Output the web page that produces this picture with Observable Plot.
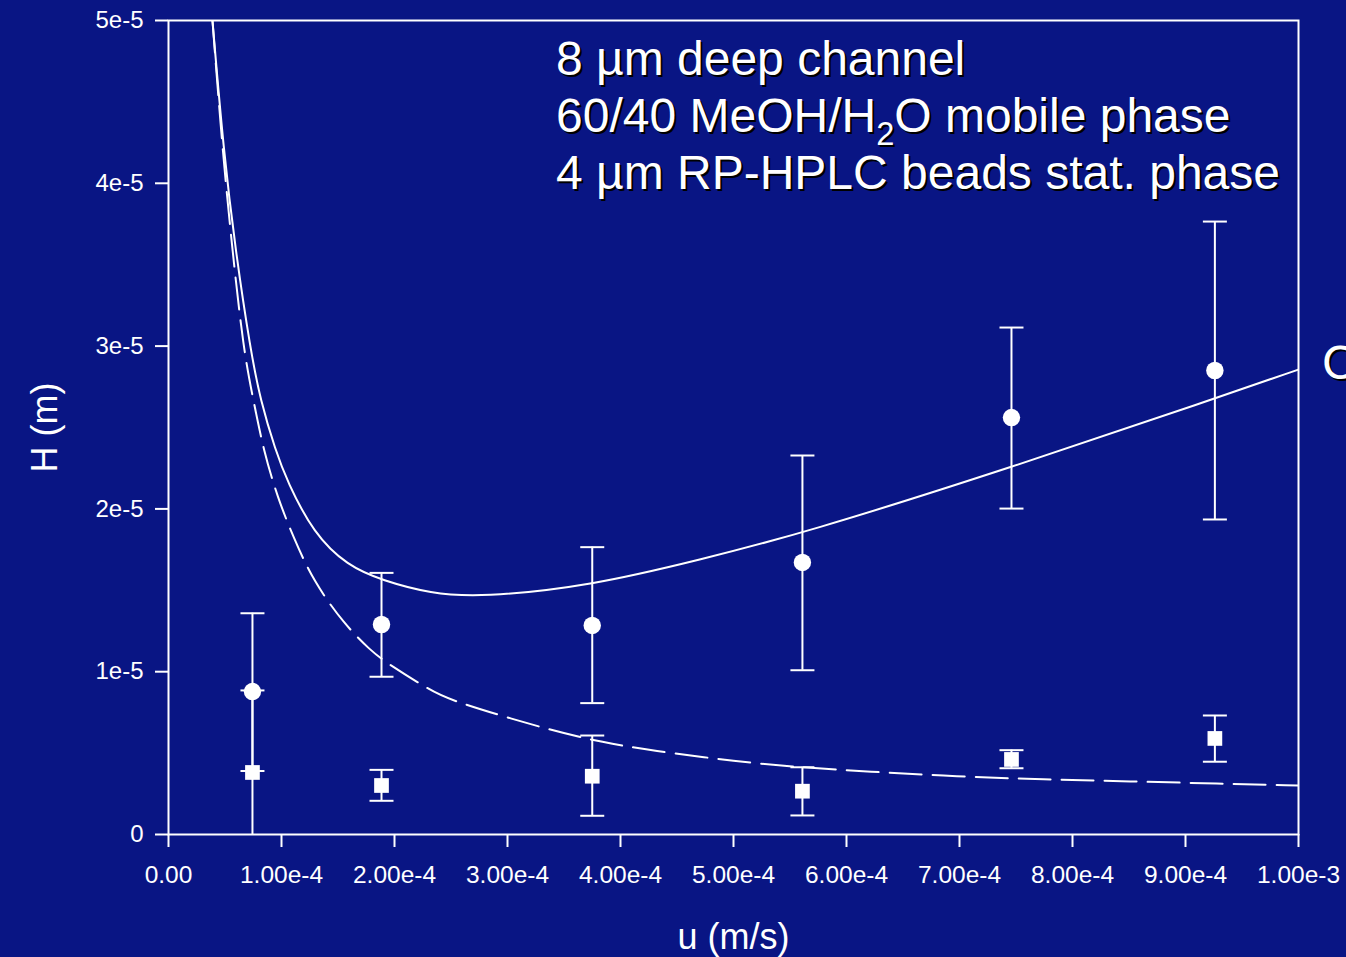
<!DOCTYPE html>
<html><head><meta charset="utf-8">
<script src="https://cdn.jsdelivr.net/npm/d3@7"></script>
<script src="https://cdn.jsdelivr.net/npm/@observablehq/plot@0.6"></script>
<style>
html,body{margin:0;padding:0;background:#091584;overflow:hidden;width:1346px;height:957px;}
#wrap{position:relative;width:1346px;height:957px;}
#wrap svg{position:absolute;left:0;top:0;}
.note{position:absolute;color:#fff;font-family:"Liberation Sans",Arial,sans-serif;font-size:48px;text-shadow:2px 2px 0 #000;white-space:nowrap;line-height:57px;}
.note sub{font-size:0.68em;vertical-align:-13px;line-height:0;}
</style></head><body><div id="wrap"></div>
<script>
// Measured points (u in m/s, H in m)
const uPts     = [7.43e-5, 1.885e-4, 3.75e-4, 5.61e-4, 7.46e-4, 9.26e-4];
const hCirc    = [8.78e-6, 1.290e-5, 1.284e-5, 1.671e-5, 2.561e-5, 2.850e-5];
const hCircLo  = [3.90e-6, 0.969e-5, 0.807e-5, 1.009e-5, 2.002e-5, 1.935e-5];
const hCircHi  = [1.359e-5, 1.607e-5, 1.765e-5, 2.328e-5, 3.114e-5, 3.765e-5];
const hSq      = [3.81e-6, 3.01e-6, 3.58e-6, 2.66e-6, 4.61e-6, 5.90e-6];
const hSqLo    = [-1.0e-6, 2.07e-6, 1.15e-6, 1.17e-6, 4.07e-6, 4.47e-6];
const hSqHi    = [8.85e-6, 3.97e-6, 6.08e-6, 4.13e-6, 5.18e-6, 7.31e-6];

// Fitted curve (solid)
const uSolid = [3.89e-5, 4.87e-5, 5.93e-5, 7.26e-5, 8.14e-5, 9.47e-5, 1.05e-4, 1.283e-4, 1.584e-4, 1.894e-4, 2.319e-4, 2.761e-4, 3.752e-4, 4.71e-4, 5.611e-4, 7.46e-4, 9.257e-4, 1.0e-3];
const hSolid = [5.0e-5, 4.20e-5, 3.587e-5, 2.973e-5, 2.666e-5, 2.359e-5, 2.170e-5, 1.849e-5, 1.650e-5, 1.560e-5, 1.480e-5, 1.456e-5, 1.529e-5, 1.689e-5, 1.849e-5, 2.254e-5, 2.678e-5, 2.856e-5];

// Dashed curve
const uDash = [3.89e-5, 4.78e-5, 5.66e-5, 6.64e-5, 7.52e-5, 8.41e-5, 9.65e-5, 1.106e-4, 1.283e-4, 1.558e-4, 1.788e-4, 1.938e-4, 2.319e-4, 2.496e-4, 3.381e-4, 3.850e-4, 4.265e-4, 5.035e-4, 5.593e-4, 6.186e-4, 6.982e-4, 7.743e-4, 8.513e-4, 9.283e-4, 1.0e-3];
const hDash = [5.0e-5, 4.20e-5, 3.587e-5, 2.973e-5, 2.666e-5, 2.359e-5, 2.070e-5, 1.824e-5, 1.554e-5, 1.290e-5, 1.130e-5, 1.050e-5, 0.885e-5, 0.823e-5, 0.639e-5, 0.565e-5, 0.516e-5, 0.448e-5, 0.412e-5, 0.387e-5, 0.356e-5, 0.338e-5, 0.326e-5, 0.313e-5, 0.301e-5];

const xTicks = [0, 1e-4, 2e-4, 3e-4, 4e-4, 5e-4, 6e-4, 7e-4, 8e-4, 9e-4, 1e-3];
const xTickLabels = ["0.00","1.00e-4","2.00e-4","3.00e-4","4.00e-4","5.00e-4","6.00e-4","7.00e-4","8.00e-4","9.00e-4","1.00e-3"];
const yTicks = [0, 1e-5, 2e-5, 3e-5, 4e-5, 5e-5];
const yTickLabels = ["0","1e-5","2e-5","3e-5","4e-5","5e-5"];

const xLabel = "u (m/s)";
const yLabel = "H (m)";
const noteLines = ["8 µm deep channel", "60/40 MeOH/H<sub>2</sub>O mobile phase", "4 µm RP-HPLC beads stat. phase"];
const sideLabel = "C";

const pts = uPts.map((u, i) => ({u, hc: hCirc[i], hcl: hCircLo[i], hch: hCircHi[i], hs: hSq[i], hsl: hSqLo[i], hsh: hSqHi[i]}));
const solid = uSolid.map((u, i) => ({u, h: hSolid[i]}));
const dash = uDash.map((u, i) => ({u, h: hDash[i]}));

const cap = {draw(ctx) { ctx.moveTo(-12, 0); ctx.lineTo(12, 0); }};

const W = "white";
const chart = Plot.plot({
  width: 1346, height: 957,
  marginLeft: 168, marginRight: 48, marginTop: 20, marginBottom: 123,
  style: {background: "transparent", color: W, fontFamily: "'Liberation Sans', Arial, sans-serif", fontSize: "24px"},
  x: {domain: [0, 1e-3]},
  y: {domain: [0, 5e-5]},
  marks: [
    Plot.axisX({ticks: xTicks, tickFormat: d => xTickLabels[xTicks.indexOf(d)], tickSize: 13, tickPadding: 18, stroke: W, strokeWidth: 2, fontSize: 24.5, label: null}),
    Plot.axisY({ticks: yTicks, tickFormat: d => yTickLabels[yTicks.indexOf(d)], tickSize: 13, tickPadding: 12, stroke: W, strokeWidth: 2, fontSize: 24, label: null}),
    Plot.frame({stroke: W, strokeWidth: 2}),
    Plot.line(solid, {x: "u", y: "h", stroke: W, strokeWidth: 2, curve: "basis", clip: true}),
    Plot.line(dash, {x: "u", y: "h", stroke: W, strokeWidth: 2, strokeDasharray: "32,11", curve: "basis", clip: true}),
    Plot.ruleX(pts, {x: "u", y1: "hcl", y2: "hch", stroke: W, strokeWidth: 2, clip: true}),
    Plot.ruleX(pts, {x: "u", y1: "hsl", y2: "hsh", stroke: W, strokeWidth: 2, clip: true}),
    Plot.dot(pts, {x: "u", y: "hcl", symbol: cap, stroke: W, strokeWidth: 2, clip: true}),
    Plot.dot(pts, {x: "u", y: "hch", symbol: cap, stroke: W, strokeWidth: 2, clip: true}),
    Plot.dot(pts, {x: "u", y: "hsl", symbol: cap, stroke: W, strokeWidth: 2, clip: true}),
    Plot.dot(pts, {x: "u", y: "hsh", symbol: cap, stroke: W, strokeWidth: 2, clip: true}),
    Plot.dot(pts, {x: "u", y: "hc", r: 8.7, fill: W, stroke: null}),
    Plot.dot(pts, {x: "u", y: "hs", r: 8.3, symbol: "square", fill: W, stroke: null}),
    Plot.text([xLabel], {text: d => d, frameAnchor: "bottom", dy: 103, fontSize: 36, fill: W, lineAnchor: "middle", textAnchor: "middle"}),
    Plot.text([yLabel], {text: d => d, frameAnchor: "left", dx: -123, rotate: -90, fontSize: 36, fill: W, lineAnchor: "middle", textAnchor: "middle"})
  ]
});
const wrap = document.getElementById("wrap");
wrap.appendChild(chart);
const note = document.createElement("div");
note.className = "note";
note.style.left = "556px"; note.style.top = "30px";
note.innerHTML = noteLines.join("<br>");
wrap.appendChild(note);
const side = document.createElement("div");
side.className = "note";
side.style.left = "1322px"; side.style.top = "334px";
side.textContent = sideLabel;
wrap.appendChild(side);
</script></body></html>
